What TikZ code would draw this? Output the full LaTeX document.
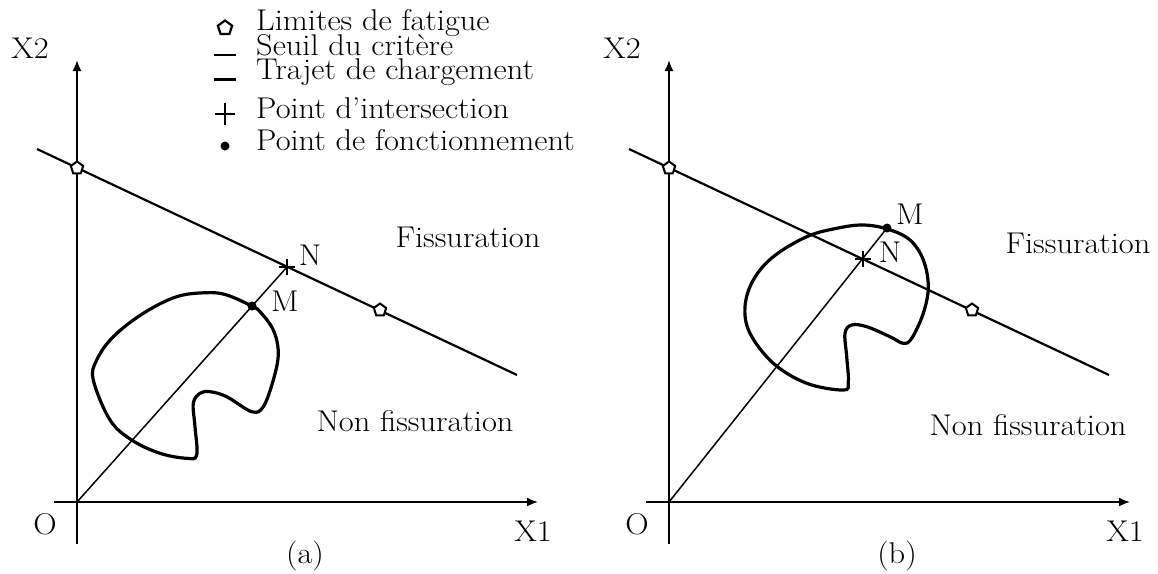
\documentclass[tikz,border=0pt]{standalone}
\usetikzlibrary{arrows.meta,shapes.geometric}
\begin{document}
\begin{tikzpicture}[x=1pt,y=-1pt,
  txt/.style={font=\fontsize{30}{32}\selectfont, inner sep=0pt, xscale=1.08},
  axis/.style={line width=1.8pt},
  axisarrow/.style={line width=1.8pt, -{Latex[length=11pt,width=9pt]}},
  crit/.style={line width=2.2pt},
  blob/.style={line width=3.2pt},
  loadpath/.style={line width=1.5pt},
  penta/.style={regular polygon, regular polygon sides=5, draw, line width=2pt, minimum size=13pt, inner sep=0pt, fill=white},
  dotm/.style={circle, fill=black, inner sep=0pt, minimum size=9pt},
  crossm/.style={line width=1.6pt}
]
\useasboundingbox (0,0) rectangle (1158,573);

% ---------- legend ----------
\node[regular polygon, regular polygon sides=5, draw, line width=2.2pt, minimum size=15pt, inner sep=0pt] (lp) at (225,28) {};
\draw[line width=1.6pt] (214,55) -- (236,55);
\draw[line width=3pt] (214,79) -- (236,79);
\draw[line width=1.6pt] (215,114) -- (235,114) (225,103) -- (225,125);
\node[dotm] (ld) at (225,146) {};
\node[txt, anchor=base west] (l1) at (256,30) {Limites de fatigue};
\node[txt, anchor=base west] (l2) at (256,55) {Seuil du crit\`ere};
\node[txt, anchor=base west] (l3) at (256,79) {Trajet de chargement};
\node[txt, anchor=base west] (l4) at (256,118) {Point d'intersection};
\node[txt, anchor=base west] (l5) at (256,150) {Point de fonctionnement};

% ---------- panel (a) ----------
\coordinate (Oa) at (77,502);
\coordinate (Xa) at (538,502);
\coordinate (Ya) at (77,60);
\coordinate (Xa0) at (54,502);
\coordinate (Ya0) at (77,544);
\draw[axisarrow] (Xa0) -- (Xa);
\draw[axis] (Ya0) -- (77,66);
\draw[axisarrow] (77,100) -- (Ya);
\coordinate (La) at (37,149);
\coordinate (Ra) at (517,375);
\draw[crit] (La) -- (Ra);
\draw[blob] plot[smooth cycle, tension=0.6] coordinates {
 (251.7,306) (226.7,295) (206.7,292.7) (176.7,296.7) (143.3,313.3) (113.3,336.7)
 (96.7,360) (93.3,380) (110,420) (131.7,440) (160,453.3) (186.7,458.3) (196.7,455)
 (195,426.7) (193.3,403.3) (200,393.3) (210,391.7) (226.7,396.7) (251.7,411.7)
 (263.3,406.7) (273.3,380) (278.3,353.3) (273.3,330) (260,311.7)};
\coordinate (Na) at (287,267);
\node[dotm] (Ma) at (252,306) {};
\draw[loadpath] (Oa) -- (Na);
\draw[crossm] (279,267) -- (295,267) (287,259) -- (287,275);
\node[penta] (pa1) at (77,168) {};
\node[penta] (pa2) at (380,310) {};
\node[txt] (NaL) at (310,255) {N};
\node[txt] (MaL) at (285,301) {M};
\node[txt] (Fa) at (468,237) {Fissuration};
\node[txt] (NFa) at (415,421) {Non fissuration};
\node[txt] (X2a) at (30,48) {X2};
\node[txt] (Oal) at (45,524) {O};
\node[txt] (X1a) at (533,531) {X1};
\node[txt] (capa) at (305,556) {(a)};

% ---------- panel (b) ----------
\coordinate (Ob) at (669,502);
\coordinate (Xb) at (1130,502);
\coordinate (Yb) at (669,60);
\coordinate (Xb0) at (646,502);
\coordinate (Yb0) at (669,544);
\draw[axisarrow] (Xb0) -- (Xb);
\draw[axis] (Yb0) -- (669,66);
\draw[axisarrow] (669,100) -- (Yb);
\coordinate (Lb) at (629,149);
\coordinate (Rb) at (1109,375);
\draw[crit] (Lb) -- (Rb);
\draw[blob] plot[smooth cycle, tension=0.6] coordinates {
 (888.3,229.3) (863.3,225) (836.7,228.3) (806.7,236.7) (773.3,256.7) (753.3,280)
 (745,306.7) (750,333.3) (773.3,363.3) (806.7,383.3) (843.3,390) (848.3,381.7)
 (846.7,356.7) (845,333.3) (851.7,325) (866.7,326.7) (890,336.7) (903.3,343.3)
 (911.7,338.3) (923.3,313.3) (928.3,286.7) (923.3,260) (910,240)};
\coordinate (Nb) at (863,259);
\node[dotm] (Mb) at (887,228) {};
\draw[loadpath] (Ob) -- (Mb.center);
\draw[crossm] (855,259) -- (871,259) (863,251) -- (863,267);
\node[penta] (pb1) at (669,168) {};
\node[penta] (pb2) at (972,310) {};
\node[txt] (NbL) at (890,252) {N};
\node[txt] (MbL) at (910,214) {M};
\node[txt] (Fb) at (1078,243) {Fissuration};
\node[txt] (NFb) at (1028,425) {Non fissuration};
\node[txt] (X2b) at (622,48) {X2};
\node[txt] (Obl) at (637,524) {O};
\node[txt] (X1b) at (1125,531) {X1};
\node[txt] (capb) at (897,556) {(b)};
\end{tikzpicture}
\end{document}
